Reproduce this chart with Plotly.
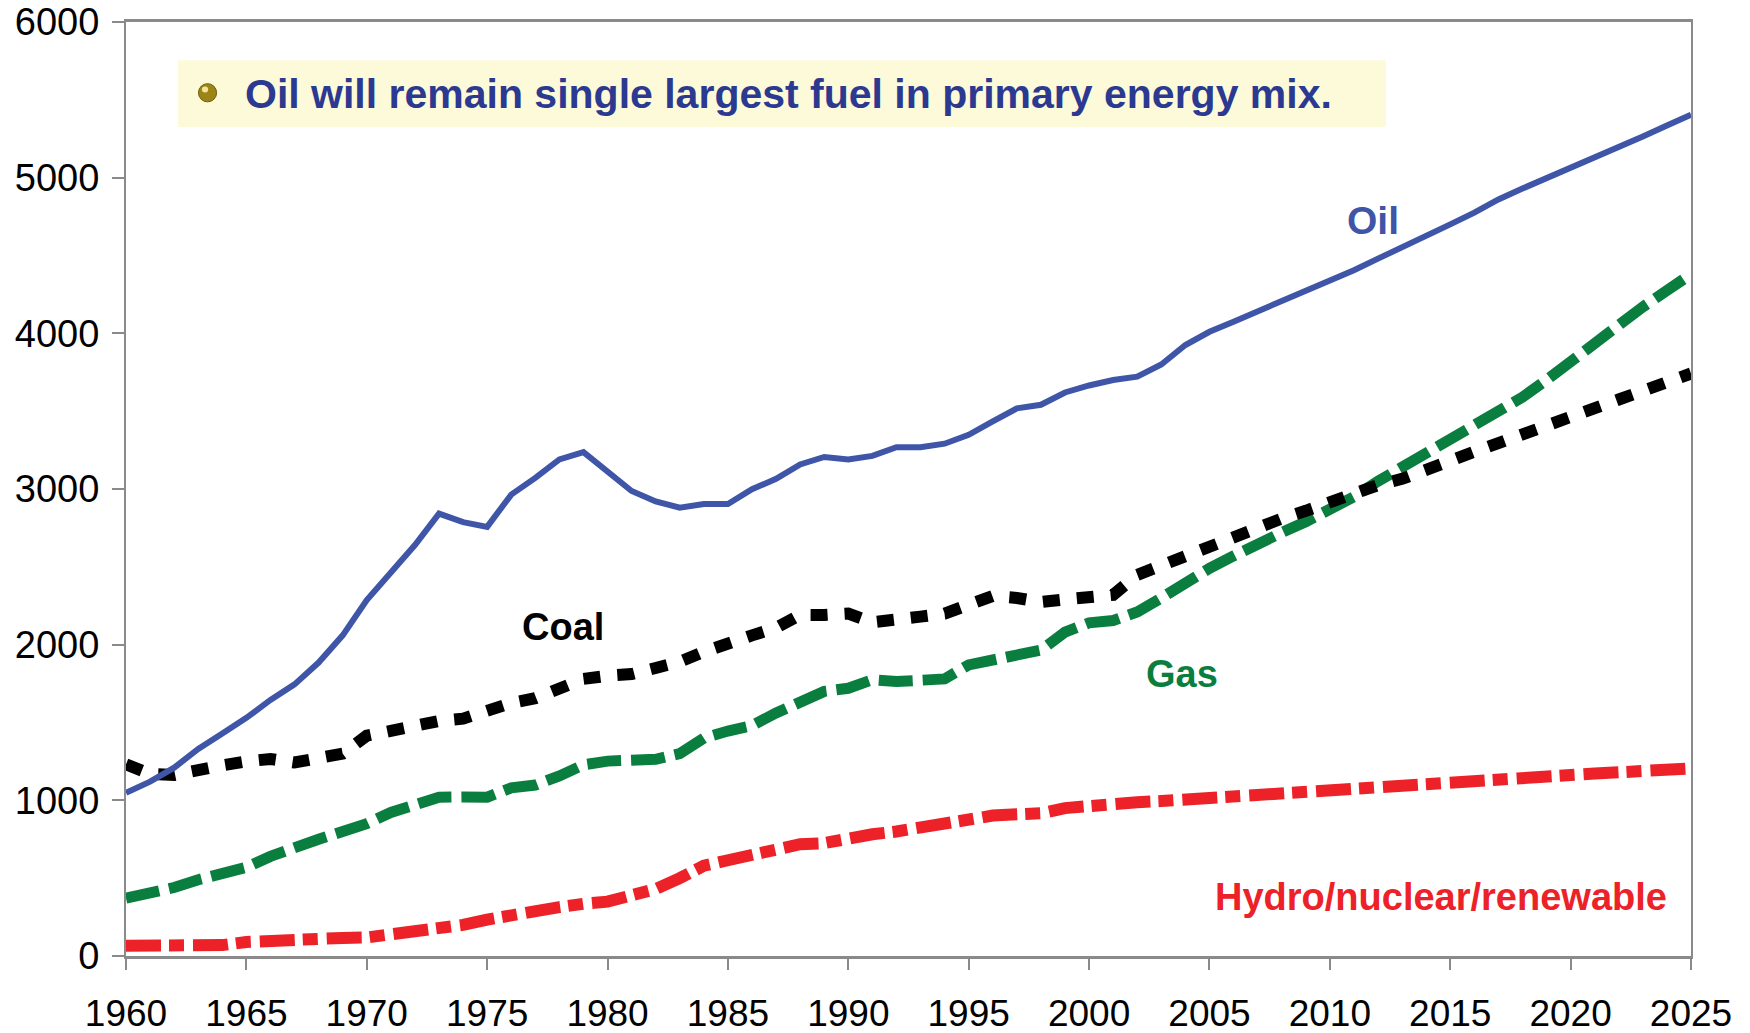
import plotly.graph_objects as go

years = list(range(1960, 2026))

oil = [1048, 1120, 1210, 1330, 1430, 1530, 1645, 1745, 1885, 2060,
       2287, 2460, 2640, 2842, 2787, 2757, 2964, 3071, 3190, 3237,
       3110, 2987, 2920, 2880, 2904, 2904, 2999, 3065, 3158, 3206,
       3189, 3213, 3268, 3268, 3291, 3348, 3434, 3518, 3541, 3620,
       3665, 3700, 3722, 3800, 3925, 4010, 4075, 4140, 4205, 4270,
       4340, 4405, 4480, 4550, 4625, 4700, 4775, 4860, 4930, 4995,
       5060, 5130, 5195, 5265, 5335, 5405]

coal = [1231, 1170, 1163, 1200, 1225, 1250, 1266, 1243, 1275, 1300,
        1415, 1449, 1480, 1510, 1525, 1576, 1625, 1656, 1720, 1780,
        1800, 1811, 1850, 1890, 1954, 2015, 2060, 2108, 2191, 2191,
        2200, 2144, 2155, 2180, 2200, 2265, 2313, 2300, 2274, 2291,
        2300, 2320, 2448, 2510, 2575, 2640, 2692, 2755, 2810, 2860,
        2920, 2985, 3025, 3065, 3130, 3185, 3240, 3295, 3355, 3410,
        3465, 3520, 3575, 3630, 3690, 3742]

gas = [371, 400, 440, 490, 525, 570, 640, 700, 750, 800,
       850, 922, 980, 1020, 1022, 1020, 1080, 1098, 1157, 1228,
       1252, 1260, 1264, 1300, 1400, 1445, 1480, 1561, 1640, 1700,
       1720, 1775, 1763, 1770, 1780, 1870, 1905, 1934, 1965, 2080,
       2140, 2155, 2210, 2300, 2400, 2490, 2570, 2650, 2720, 2790,
       2870, 2950, 3050, 3140, 3220, 3300, 3390, 3500, 3590, 3700,
       3820, 3950, 4060, 4170, 4275, 4380]

hydro = [66, 66, 67, 68, 70, 90, 100, 105, 112, 116,
         119, 135, 158, 175, 200, 234, 265, 285, 314, 335,
         349, 390, 430, 500, 580, 615, 650, 690, 718, 725,
         760, 782, 800, 825, 850, 880, 902, 910, 917, 950,
         968, 980, 988, 995, 1005, 1015, 1030, 1040, 1050, 1065,
         1080, 1090, 1095, 1100, 1110, 1120, 1130, 1140, 1150, 1158,
         1165, 1172, 1180, 1190, 1200, 1205]

x_ticks = [1960, 1965, 1970, 1975, 1980, 1985, 1990, 1995, 2000, 2005, 2010, 2015, 2020, 2025]
y_ticks = [0, 1000, 2000, 3000, 4000, 5000, 6000]

headline = "Oil will remain single largest fuel in primary energy mix."

FONT = "Liberation Sans, Arial, Helvetica, sans-serif"

fig = go.Figure()
fig.add_trace(go.Scatter(x=years, y=hydro, mode="lines", name="Hydro/nuclear/renewable",
                         line=dict(color="#EC2228", width=12, dash="35px,8px,15px,9px")))
fig.add_trace(go.Scatter(x=years, y=gas, mode="lines", name="Gas",
                         line=dict(color="#0A7E3E", width=11, dash="34px,10px")))
fig.add_trace(go.Scatter(x=years, y=coal, mode="lines", name="Coal",
                         line=dict(color="#000000", width=12, dash="17px,17px")))
fig.add_trace(go.Scatter(x=years, y=oil, mode="lines", name="Oil",
                         line=dict(color="#3F55A8", width=6)))

# headline box
fig.add_shape(type="rect", xref="paper", yref="paper",
              x0=0.0332, x1=0.805, y0=0.8876, y1=0.959,
              fillcolor="#FCFAD8", line=dict(width=0), layer="below")
# gold bullet
fig.add_shape(type="circle", xref="paper", yref="paper",
              x0=0.0463, x1=0.0579, y0=0.9145, y1=0.934,
              fillcolor="#9C8516", line=dict(color="#6E5C0C", width=1))
fig.add_shape(type="circle", xref="paper", yref="paper",
              x0=0.0485, x1=0.0525, y0=0.9245, y1=0.931,
              fillcolor="#F3E49A", line=dict(width=0))

fig.add_annotation(xref="paper", yref="paper", x=0.0745, y=0.9229,
                   xanchor="left", yanchor="middle", showarrow=False,
                   text=headline,
                   font=dict(family=FONT, size=41, color="#2B3990", weight="bold"))

fig.add_annotation(x=2011.8, y=4722, text="Oil", showarrow=False,
                   font=dict(family=FONT, size=39, color="#3F55A8", weight="bold"))
fig.add_annotation(x=1978.15, y=2113, text="Coal", showarrow=False,
                   font=dict(family=FONT, size=38, color="#000000", weight="bold"))
fig.add_annotation(x=2003.85, y=1812, text="Gas", showarrow=False,
                   font=dict(family=FONT, size=38, color="#0A7E3E", weight="bold"))
fig.add_annotation(x=2014.6, y=379, text="Hydro/nuclear/renewable", showarrow=False,
                   font=dict(family=FONT, size=38, color="#EC2228", weight="bold"))

fig.update_layout(
    width=1742, height=1025,
    margin=dict(l=118, r=59, t=14, b=77, autoexpand=False),
    paper_bgcolor="white", plot_bgcolor="white",
    showlegend=False,
    font=dict(family=FONT, color="#000000"),
)
fig.update_xaxes(range=[1960, 2025], tickmode="array", tickvals=x_ticks,
                 ticktext=[str(t) for t in x_ticks],
                 showgrid=False, zeroline=False,
                 showline=True, linecolor="#8A8A8A", linewidth=3, mirror=True,
                 ticks="outside", ticklen=11, tickwidth=2, tickcolor="#8A8A8A",
                 ticklabelstandoff=12, ticklabeloverflow="allow",
                 tickfont=dict(family=FONT, size=37, color="#000000"))
fig.update_yaxes(range=[0, 6000], tickmode="array", tickvals=y_ticks,
                 ticktext=[str(t) for t in y_ticks],
                 showgrid=False, zeroline=False,
                 showline=True, linecolor="#8A8A8A", linewidth=2, mirror=True,
                 ticks="outside", ticklen=12, tickwidth=2, tickcolor="#8A8A8A",
                 ticklabelstandoff=5, ticklabeloverflow="allow",
                 tickfont=dict(family=FONT, size=38, color="#000000"))

fig.write_html("out.html")
